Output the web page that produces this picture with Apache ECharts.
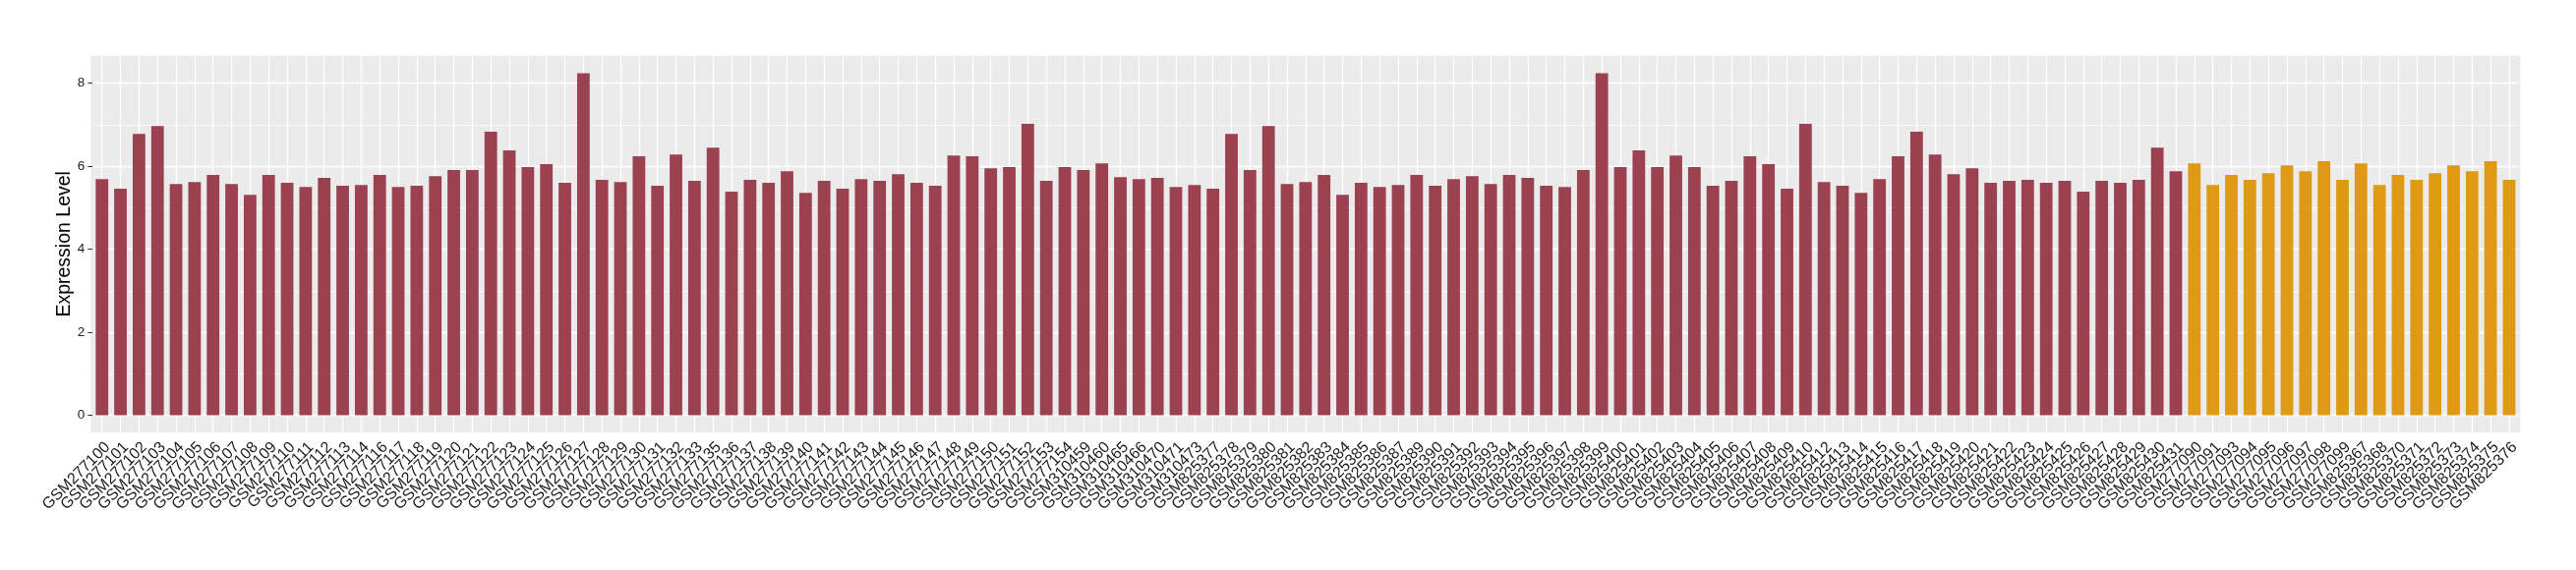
<!DOCTYPE html>
<html><head><meta charset="utf-8">
<script src="https://cdn.jsdelivr.net/npm/echarts@6/dist/echarts.min.js"></script>
<style>html,body{margin:0;padding:0;background:#fff}#c{width:2620px;height:580px}</style>
</head><body><div id="c"></div>
<script>
const redSamples = [
 'GSM277100','GSM277101','GSM277102','GSM277103','GSM277104','GSM277105','GSM277106','GSM277107','GSM277108','GSM277109',
 'GSM277110','GSM277111','GSM277112','GSM277113','GSM277114','GSM277116','GSM277117','GSM277118','GSM277119','GSM277120',
 'GSM277121','GSM277122','GSM277123','GSM277124','GSM277125','GSM277126','GSM277127','GSM277128','GSM277129','GSM277130',
 'GSM277131','GSM277132','GSM277133','GSM277135','GSM277136','GSM277137','GSM277138','GSM277139','GSM277140','GSM277141',
 'GSM277142','GSM277143','GSM277144','GSM277145','GSM277146','GSM277147','GSM277148','GSM277149','GSM277150','GSM277151',
 'GSM277152','GSM277153','GSM277154','GSM310459','GSM310460','GSM310465','GSM310466','GSM310470','GSM310471','GSM310473',
 'GSM825377','GSM825378','GSM825379','GSM825380','GSM825381','GSM825382','GSM825383','GSM825384','GSM825385','GSM825386',
 'GSM825387','GSM825389','GSM825390','GSM825391','GSM825392','GSM825393','GSM825394','GSM825395','GSM825396','GSM825397',
 'GSM825398','GSM825399','GSM825400','GSM825401','GSM825402','GSM825403','GSM825404','GSM825405','GSM825406','GSM825407',
 'GSM825408','GSM825409','GSM825410','GSM825412','GSM825413','GSM825414','GSM825415','GSM825416','GSM825417','GSM825418',
 'GSM825419','GSM825420','GSM825421','GSM825422','GSM825423','GSM825424','GSM825425','GSM825426','GSM825427','GSM825428',
 'GSM825429','GSM825430','GSM825431'];
const redValues = [
 5.69,5.46,6.78,6.97,5.57,5.62,5.79,5.57,5.31,5.79,
 5.60,5.50,5.72,5.53,5.55,5.79,5.50,5.53,5.76,5.91,
 5.91,6.83,6.38,5.98,6.05,5.60,8.24,5.67,5.62,6.24,
 5.53,6.28,5.65,6.45,5.39,5.67,5.60,5.88,5.36,5.65,
 5.46,5.69,5.65,5.81,5.60,5.53,6.26,6.24,5.95,5.98,
 7.02,5.65,5.98,5.91,6.07,5.74,5.69,5.72,5.50,5.55,
 5.46,6.78,5.91,6.97,5.57,5.62,5.79,5.31,5.60,5.50,
 5.55,5.79,5.53,5.69,5.76,5.57,5.79,5.72,5.53,5.50,
 5.91,8.24,5.98,6.38,5.98,6.26,5.98,5.53,5.65,6.24,
 6.05,5.46,7.02,5.62,5.53,5.36,5.69,6.24,6.83,6.28,
 5.81,5.95,5.60,5.65,5.67,5.60,5.65,5.39,5.65,5.60,
 5.67,6.45,5.88];
const orangeSamples = [
 'GSM277090','GSM277091','GSM277093','GSM277094','GSM277095','GSM277096','GSM277097','GSM277098','GSM277099',
 'GSM825367','GSM825368','GSM825370','GSM825371','GSM825372','GSM825373','GSM825374','GSM825375','GSM825376'];
const orangeValues = [
 6.07,5.55,5.79,5.67,5.83,6.02,5.88,6.12,5.67,
 6.07,5.55,5.79,5.67,5.83,6.02,5.88,6.12,5.67];
const yTicks = [0, 2, 4, 6, 8];
const yMinorTicks = [1, 3, 5, 7];
const yRange = [-0.4125, 8.6625];
const yTitle = 'Expression Level';

const RED = '#9B4150', ORANGE = '#DE9A15';
const categories = redSamples.concat(orangeSamples);
const barData = redValues.map(v => ({value: v, itemStyle: {color: RED}}))
  .concat(orangeValues.map(v => ({value: v, itemStyle: {color: ORANGE}})));

const gridLines = []
  .concat(yMinorTicks.map(v => ({yAxis: v, lineStyle: {color: '#fff', width: 0.7, type: 'solid'}})))
  .concat(yTicks.map(v => ({yAxis: v, lineStyle: {color: '#fff', width: 1.3, type: 'solid'}})))
  .concat(categories.map(c => ({xAxis: c, lineStyle: {color: '#fff', width: 1.3, type: 'solid'}})));

const chart = echarts.init(document.getElementById('c'), null, {renderer: 'canvas'});
chart.setOption({
  animation: false,
  backgroundColor: '#fff',
  textStyle: {fontFamily: 'Liberation Sans'},
  graphic: [{
    type: 'rect', z: -10, silent: true,
    shape: {x: 92.4, y: 56.7, width: 2470.9, height: 383.3},
    style: {fill: '#EBEBEB'}
  }],
  grid: {left: 94.3, right: 58.6, top: 56.7, bottom: 140, containLabel: false},
  xAxis: {
    type: 'category', data: categories,
    axisLine: {show: false},
    axisTick: {show: true, alignWithLabel: true, length: 4, lineStyle: {color: '#333', width: 1}},
    axisLabel: {interval: 0, rotate: 45, fontSize: 16, color: '#1a1a1a', margin: 7,
      fontFamily: 'Liberation Sans', align: 'right', verticalAlign: 'top'},
    splitLine: {show: false}
  },
  yAxis: {
    type: 'value', min: yRange[0], max: yRange[1],
    axisLine: {show: false},
    splitLine: {show: false},
    axisTick: {show: true, customValues: yTicks, length: 5, lineStyle: {color: '#333', width: 1}},
    axisLabel: {customValues: yTicks, fontSize: 13.5, color: '#222', margin: 8, fontFamily: 'Liberation Sans'},
    name: yTitle, nameLocation: 'middle', nameGap: 19, nameMoveOverlap: false,
    nameTextStyle: {fontSize: 19.5, color: '#000', fontFamily: 'Liberation Sans'}
  },
  series: [{
    type: 'bar', data: barData, barWidth: '68%', z: 2,
    emphasis: {disabled: true}, silent: true,
    markLine: {
      z: 1, silent: true, symbol: ['none', 'none'], label: {show: false},
      emphasis: {disabled: true}, animation: false,
      data: gridLines
    }
  }]
});
</script></body></html>
